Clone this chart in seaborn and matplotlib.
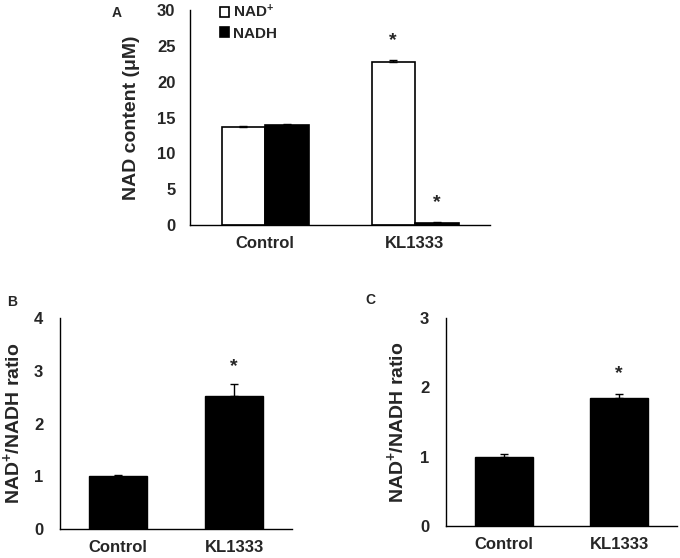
import matplotlib
matplotlib.use("Agg")
import matplotlib.pyplot as plt
import seaborn as sns
import pandas as pd
import numpy as np

# data
groups = ["Control", "KL1333"]
nad_plus = [13.7, 22.8]
nad_plus_err = [0.1, 0.2]
nadh = [14.0, 0.3]
nadh_err = [0.1, 0.05]
ratio_b = [1.0, 2.52]
ratio_b_err = [0.03, 0.22]
ratio_c = [1.0, 1.85]
ratio_c_err = [0.04, 0.06]
stars_a = [["", "*"], ["", "*"]]  # per series, per group
stars_b = ["", "*"]
stars_c = ["", "*"]

sns.set_style("white")
plt.rcParams["font.family"] = ["Liberation Sans", "DejaVu Sans"]
plt.rcParams["font.weight"] = "bold"
plt.rcParams["axes.labelweight"] = "bold"
plt.rcParams["mathtext.fontset"] = "custom"
plt.rcParams["mathtext.rm"] = "Liberation Sans:bold"
plt.rcParams["mathtext.bf"] = "Liberation Sans:bold"
plt.rcParams["mathtext.it"] = "Liberation Sans:bold"

fig = plt.figure(figsize=(6.8, 5.58), dpi=100)


def style_axis(ax, ymax, step, ypad):
    sns.despine(ax=ax)
    for s in ["left", "bottom"]:
        ax.spines[s].set_linewidth(1.0)
        ax.spines[s].set_color("black")
    ax.set_ylim(0, ymax)
    ax.set_yticks(np.arange(0, ymax + step / 2, step))
    ax.set_xlim(-0.5, 1.5)
    # excel style: ticks between categories, labels centred
    ax.set_xticks([-0.5, 0.5, 1.5])
    ax.set_xticklabels([])
    ax.set_xticks([0, 1], minor=True)
    ax.set_xticklabels(groups, minor=True, fontsize=12, fontweight="bold")
    ax.tick_params(axis="x", which="major", direction="out", length=4, width=1, color="black")
    ax.tick_params(axis="x", which="minor", length=0, pad=8)
    ax.tick_params(axis="y", direction="out", length=4, width=1, color="black",
                   labelsize=12, pad=ypad)
    for t in ax.get_yticklabels():
        t.set_fontweight("bold")
    ax.set_xlabel("")


def add_err(ax, container, vals, errs, stars, offset):
    xs = [p.get_x() + p.get_width() / 2 for p in container]
    ax.errorbar(xs, vals, yerr=[[0] * len(errs), errs], fmt="none",
                ecolor="black", elinewidth=1, capsize=3, capthick=1)
    for x, v, e, s in zip(xs, vals, errs, stars):
        if s:
            ax.text(x, v + e + offset, s, ha="center", va="center",
                    fontsize=14, fontweight="bold")


# panel A
axA = fig.add_axes([190 / 680, 1 - 225 / 558, 300 / 680, 215 / 558])
dfA = pd.DataFrame({
    "group": groups * 2,
    "value": nad_plus + nadh,
    "kind": ["NAD+"] * 2 + ["NADH"] * 2,
})
sns.barplot(data=dfA, x="group", y="value", hue="kind", order=groups,
            hue_order=["NAD+", "NADH"], palette={"NAD+": "white", "NADH": "black"},
            edgecolor="black", linewidth=1.2, width=0.58, errorbar=None, ax=axA)
style_axis(axA, 30, 5, 6.5)
add_err(axA, axA.containers[0], nad_plus, nad_plus_err, stars_a[0], 2.8)
add_err(axA, axA.containers[1], nadh, nadh_err, stars_a[1], 2.8)
axA.set_ylabel("NAD content (μM)", fontsize=14, fontweight="bold")
axA.yaxis.set_label_coords(-0.165, 0.5)
handles = [axA.containers[0][0], axA.containers[1][0]]
axA.legend(handles, [r"NAD$^{+}$", "NADH"], loc="upper left",
           bbox_to_anchor=(0.08, 1.06), frameon=False, fontsize=11,
           handlelength=0.6, handleheight=0.6, handletextpad=0.25,
           labelspacing=0.4, borderaxespad=0)

# panel B
axB = fig.add_axes([60 / 680, 1 - 529 / 558, 232 / 680, 211 / 558])
dfB = pd.DataFrame({"group": groups, "value": ratio_b})
sns.barplot(data=dfB, x="group", y="value", order=groups, color="black",
            edgecolor="black", linewidth=1, width=0.5, errorbar=None, ax=axB)
style_axis(axB, 4, 1, 8)
add_err(axB, axB.containers[0], ratio_b, ratio_b_err, stars_b, 0.33)
axB.set_ylabel(r"NAD$^{+}$/NADH ratio", fontsize=14, fontweight="bold")
axB.yaxis.set_label_coords(-0.16, 0.5)

# panel C
axC = fig.add_axes([446 / 680, 1 - 526 / 558, 231 / 680, 208 / 558])
dfC = pd.DataFrame({"group": groups, "value": ratio_c})
sns.barplot(data=dfC, x="group", y="value", order=groups, color="black",
            edgecolor="black", linewidth=1, width=0.5, errorbar=None, ax=axC)
style_axis(axC, 3, 1, 8)
add_err(axC, axC.containers[0], ratio_c, ratio_c_err, stars_c, 0.29)
axC.set_ylabel(r"NAD$^{+}$/NADH ratio", fontsize=14, fontweight="bold")
axC.yaxis.set_label_coords(-0.17, 0.5)

fig.text(117 / 680, 1 - 13 / 558, "A", fontsize=10, fontweight="bold", ha="center", va="center")
fig.text(12 / 680, 1 - 302 / 558, "B", fontsize=10, fontweight="bold", ha="center", va="center")
fig.text(370 / 680, 1 - 300 / 558, "C", fontsize=10, fontweight="bold", ha="center", va="center")

fig.savefig("out.png", dpi=100)
